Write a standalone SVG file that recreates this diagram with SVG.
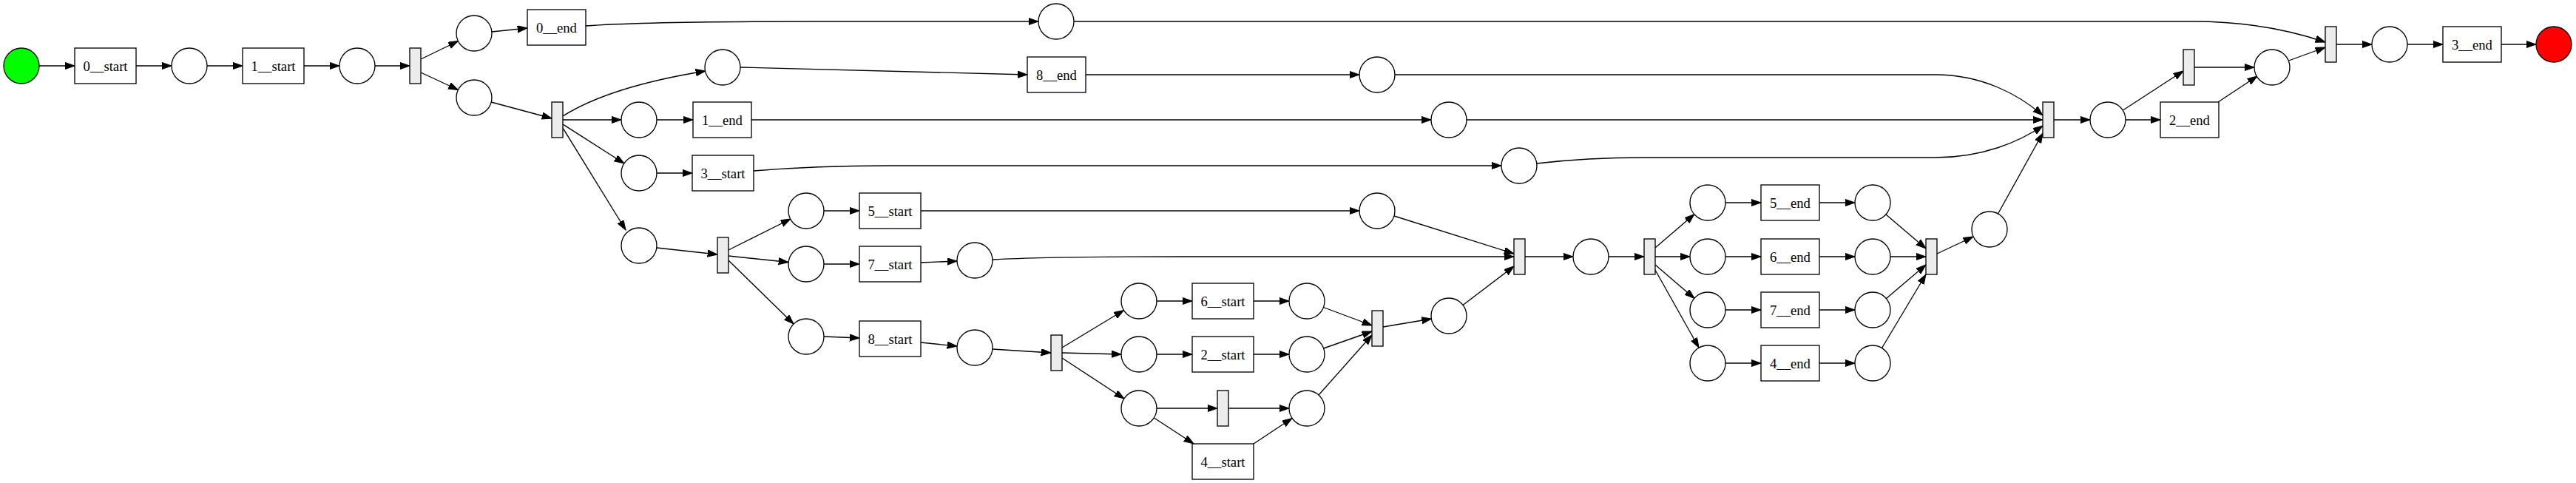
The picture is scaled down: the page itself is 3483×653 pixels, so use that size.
<svg xmlns="http://www.w3.org/2000/svg" width="3483" height="653" viewBox="0 0 3483 653">
<style>
.pl{fill:#ffffff;stroke:#000;stroke-width:1.33}
.tr{fill:#ffffff;stroke:#000;stroke-width:1.33}
.si{fill:#ececec;stroke:#000;stroke-width:1.33}
.lb{font-family:"Liberation Serif","Times New Roman",serif;font-size:18.67px;text-anchor:middle;fill:#000}
#edges path{fill:none;stroke:#000;stroke-width:1.33;marker-end:url(#ah)}
</style>
<defs>
<marker id="ah" markerUnits="userSpaceOnUse" markerWidth="15" markerHeight="11" refX="13.3" refY="4.67" orient="auto">
<path d="M0,0 L13.3,4.67 L0,9.33 z" fill="#000" stroke="#000" stroke-width="1"/>
</marker>
</defs>
<rect width="3483" height="653" fill="#fff"/>
<g id="edges">
<path d="M53,89 L101,89"/>
<path d="M184,89 L232,89"/>
<path d="M280,89 L328,89"/>
<path d="M411,89 L459,89"/>
<path d="M507,89 L554,89"/>
<path d="M569,80 L619.5,55.5"/>
<path d="M569,98 L619.5,121.5"/>
<path d="M665,43 L713,38"/>
<path d="M664,138 L746,160"/>
<path d="M792,35 C860,30 980,29 1100,29 L1404,29"/>
<path d="M761,157 C810,126 880,108 954,96"/>
<path d="M761,162 L840,162"/>
<path d="M761,168 L844,221"/>
<path d="M761,173 L846,311"/>
<path d="M1001,91 L1389,101"/>
<path d="M1468,101 L1838,101"/>
<path d="M1886,101 L2617,101 C2680,101 2730,128 2762,156"/>
<path d="M888,162 L937,162"/>
<path d="M1016,162 L1935,162"/>
<path d="M1983,162 L2762,162"/>
<path d="M888,234 L936,234"/>
<path d="M1019,231 C1080,226 1140,224 1200,224 L2030,224"/>
<path d="M2078,221 C2120,216 2170,213 2224,213 L2617,213 C2680,213 2730,192 2762,170"/>
<path d="M888,335 L970,344"/>
<path d="M985,338 L1069,296"/>
<path d="M985,346 L1066,354.5"/>
<path d="M985,352 L1073,438"/>
<path d="M1114,285 L1162,285"/>
<path d="M1245,285 L1838,285"/>
<path d="M1885,292 L2047,343"/>
<path d="M1114,357 L1162,357"/>
<path d="M1245,355 L1294,353"/>
<path d="M1342,351 C1400,348 1500,347 1600,347 L2047,347"/>
<path d="M1114,455 L1162,457"/>
<path d="M1245,463 L1294,468"/>
<path d="M1342,472 L1421,477"/>
<path d="M1436,470 L1519.5,419.5"/>
<path d="M1436,477 L1516,479"/>
<path d="M1436,484 L1520,539"/>
<path d="M1564,407 L1612,407"/>
<path d="M1695,407 L1743,407"/>
<path d="M1564,479 L1612,479"/>
<path d="M1695,479 L1743,479"/>
<path d="M1564,552 L1646,552"/>
<path d="M1661,552 L1743,552"/>
<path d="M1560.5,565 L1614,600"/>
<path d="M1695,600 L1747,565.5"/>
<path d="M1789.5,415.5 L1855,440"/>
<path d="M1789.5,471 L1855,448"/>
<path d="M1783,534 L1855,453"/>
<path d="M1870,442 L1935.5,431"/>
<path d="M1978,412.5 L2047,360"/>
<path d="M2062,347 L2127,347"/>
<path d="M2175,347 L2223,347"/>
<path d="M2238,335 L2291,289.5"/>
<path d="M2238,347 L2285,347"/>
<path d="M2238,358 L2291,403.5"/>
<path d="M2238,365 L2297,470"/>
<path d="M2333,274 L2381,274"/>
<path d="M2460,274 L2508,274"/>
<path d="M2333,347 L2381,347"/>
<path d="M2460,347 L2508,347"/>
<path d="M2333,419 L2381,419"/>
<path d="M2460,419 L2508,419"/>
<path d="M2333,491 L2381,491"/>
<path d="M2460,491 L2508,491"/>
<path d="M2550,290 L2604,336"/>
<path d="M2556,347 L2604,347"/>
<path d="M2550.5,403.5 L2604,358"/>
<path d="M2544.5,470.5 L2604,371"/>
<path d="M2619,343 L2668,320"/>
<path d="M2701.5,289 L2762,180"/>
<path d="M2777,162 L2826,162"/>
<path d="M2874,162 L2921,162"/>
<path d="M2870.5,149 L2952,96"/>
<path d="M2999,138 L3052,103"/>
<path d="M2967,91 L3048,91"/>
<path d="M3094.5,82 L3144,64"/>
<path d="M1452,29 L2965,29 C3040,29 3100,42 3144,57"/>
<path d="M3159,60 L3207,60"/>
<path d="M3255,60 L3303,60"/>
<path d="M3382,60 L3429,60"/>
</g>
<g id="source"><circle cx="29" cy="89" r="24" fill="#00ff00" stroke="#000" stroke-width="1.33"/></g>
<g id="t_0_start"><rect class="tr" x="101" y="65" width="83" height="48"/><text class="lb" x="142.5" y="95.5">0__start</text></g>
<g id="p1"><circle class="pl" cx="256" cy="89" r="24"/></g>
<g id="t_1_start"><rect class="tr" x="328" y="65" width="83" height="48"/><text class="lb" x="369.5" y="95.5">1__start</text></g>
<g id="p2"><circle class="pl" cx="483" cy="89" r="24"/></g>
<g id="tau1"><rect class="si" x="554" y="65" width="15" height="48"/></g>
<g id="p3"><circle class="pl" cx="641" cy="45" r="24"/></g>
<g id="p4"><circle class="pl" cx="641" cy="132" r="24"/></g>
<g id="t_0_end"><rect class="tr" x="713" y="13" width="79" height="48"/><text class="lb" x="752.5" y="43.5">0__end</text></g>
<g id="p5"><circle class="pl" cx="1428" cy="29" r="24"/></g>
<g id="tau2"><rect class="si" x="746" y="138" width="15" height="48"/></g>
<g id="p6"><circle class="pl" cx="977" cy="91" r="24"/></g>
<g id="t_8_end"><rect class="tr" x="1389" y="77" width="79" height="48"/><text class="lb" x="1428.5" y="107.5">8__end</text></g>
<g id="p7"><circle class="pl" cx="1862" cy="101" r="24"/></g>
<g id="p8"><circle class="pl" cx="864" cy="162" r="24"/></g>
<g id="t_1_end"><rect class="tr" x="937" y="138" width="79" height="48"/><text class="lb" x="976.5" y="168.5">1__end</text></g>
<g id="p9"><circle class="pl" cx="1959" cy="162" r="24"/></g>
<g id="p10"><circle class="pl" cx="864" cy="234" r="24"/></g>
<g id="t_3_start"><rect class="tr" x="936" y="210" width="83" height="48"/><text class="lb" x="977.5" y="240.5">3__start</text></g>
<g id="p11"><circle class="pl" cx="2054" cy="224" r="24"/></g>
<g id="p12"><circle class="pl" cx="864" cy="332" r="24"/></g>
<g id="tau3"><rect class="si" x="970" y="321" width="15" height="48"/></g>
<g id="p13"><circle class="pl" cx="1090" cy="285" r="24"/></g>
<g id="t_5_start"><rect class="tr" x="1162" y="261" width="83" height="48"/><text class="lb" x="1203.5" y="291.5">5__start</text></g>
<g id="p14"><circle class="pl" cx="1862" cy="285" r="24"/></g>
<g id="p15"><circle class="pl" cx="1090" cy="357" r="24"/></g>
<g id="t_7_start"><rect class="tr" x="1162" y="333" width="83" height="48"/><text class="lb" x="1203.5" y="363.5">7__start</text></g>
<g id="p16"><circle class="pl" cx="1318" cy="352" r="24"/></g>
<g id="p17"><circle class="pl" cx="1090" cy="455" r="24"/></g>
<g id="t_8_start"><rect class="tr" x="1162" y="434" width="83" height="48"/><text class="lb" x="1203.5" y="464.5">8__start</text></g>
<g id="p18"><circle class="pl" cx="1318" cy="470" r="24"/></g>
<g id="tau4"><rect class="si" x="1421" y="453" width="15" height="48"/></g>
<g id="p19"><circle class="pl" cx="1540" cy="407" r="24"/></g>
<g id="t_6_start"><rect class="tr" x="1612" y="383" width="83" height="48"/><text class="lb" x="1653.5" y="413.5">6__start</text></g>
<g id="p20"><circle class="pl" cx="1767" cy="407" r="24"/></g>
<g id="p21"><circle class="pl" cx="1540" cy="479" r="24"/></g>
<g id="t_2_start"><rect class="tr" x="1612" y="455" width="83" height="48"/><text class="lb" x="1653.5" y="485.5">2__start</text></g>
<g id="p22"><circle class="pl" cx="1767" cy="479" r="24"/></g>
<g id="p23"><circle class="pl" cx="1540" cy="552" r="24"/></g>
<g id="tau5"><rect class="si" x="1646" y="528" width="15" height="48"/></g>
<g id="t_4_start"><rect class="tr" x="1612" y="600" width="83" height="48"/><text class="lb" x="1653.5" y="630.5">4__start</text></g>
<g id="p24"><circle class="pl" cx="1767" cy="552" r="24"/></g>
<g id="tau6"><rect class="si" x="1855" y="420" width="15" height="48"/></g>
<g id="p25"><circle class="pl" cx="1959" cy="427" r="24"/></g>
<g id="tau7"><rect class="si" x="2047" y="323" width="15" height="48"/></g>
<g id="p26"><circle class="pl" cx="2151" cy="347" r="24"/></g>
<g id="tau8"><rect class="si" x="2223" y="323" width="15" height="48"/></g>
<g id="p27"><circle class="pl" cx="2309" cy="274" r="24"/></g>
<g id="t_5_end"><rect class="tr" x="2381" y="250" width="79" height="48"/><text class="lb" x="2420.5" y="280.5">5__end</text></g>
<g id="p28"><circle class="pl" cx="2532" cy="274" r="24"/></g>
<g id="p29"><circle class="pl" cx="2309" cy="347" r="24"/></g>
<g id="t_6_end"><rect class="tr" x="2381" y="323" width="79" height="48"/><text class="lb" x="2420.5" y="353.5">6__end</text></g>
<g id="p30"><circle class="pl" cx="2532" cy="347" r="24"/></g>
<g id="p31"><circle class="pl" cx="2309" cy="419" r="24"/></g>
<g id="t_7_end"><rect class="tr" x="2381" y="395" width="79" height="48"/><text class="lb" x="2420.5" y="425.5">7__end</text></g>
<g id="p32"><circle class="pl" cx="2532" cy="419" r="24"/></g>
<g id="p33"><circle class="pl" cx="2309" cy="491" r="24"/></g>
<g id="t_4_end"><rect class="tr" x="2381" y="467" width="79" height="48"/><text class="lb" x="2420.5" y="497.5">4__end</text></g>
<g id="p34"><circle class="pl" cx="2532" cy="491" r="24"/></g>
<g id="tau9"><rect class="si" x="2604" y="323" width="15" height="48"/></g>
<g id="p35"><circle class="pl" cx="2690" cy="310" r="24"/></g>
<g id="tau10"><rect class="si" x="2762" y="138" width="15" height="48"/></g>
<g id="p36"><circle class="pl" cx="2850" cy="162" r="24"/></g>
<g id="t_2_end"><rect class="tr" x="2921" y="138" width="79" height="48"/><text class="lb" x="2960.5" y="168.5">2__end</text></g>
<g id="tau11"><rect class="si" x="2952" y="67" width="15" height="48"/></g>
<g id="p37"><circle class="pl" cx="3072" cy="91" r="24"/></g>
<g id="tau12"><rect class="si" x="3144" y="36" width="15" height="48"/></g>
<g id="p38"><circle class="pl" cx="3231" cy="60" r="24"/></g>
<g id="t_3_end"><rect class="tr" x="3303" y="36" width="79" height="48"/><text class="lb" x="3342.5" y="66.5">3__end</text></g>
<g id="sink"><circle cx="3453" cy="60" r="24" fill="#ff0000" stroke="#000" stroke-width="1.33"/></g>
</svg>
